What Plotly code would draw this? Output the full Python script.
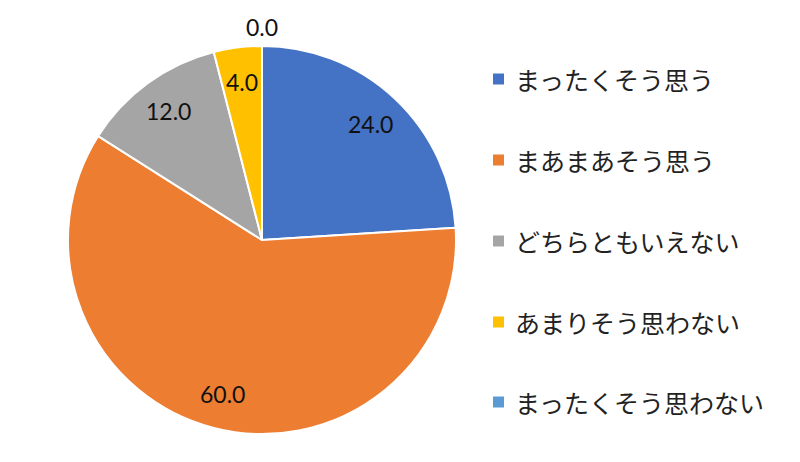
import math
import plotly.graph_objects as go

labels = ['まったくそう思う', 'まあまあそう思う', 'どちらともいえない', 'あまりそう思わない', 'まったくそう思わない']
values = [24.0, 60.0, 12.0, 4.0, 0.0]
colors = ['#4472C4', '#ED7D31', '#A5A5A5', '#FFC000', '#5B9BD5']

W, H = 800, 462
CX, CY, R = 262, 240, 194   # pie centre / radius in px

fig = go.Figure(go.Pie(
    labels=labels, values=values, sort=False, direction='clockwise', rotation=0,
    marker=dict(colors=colors, line=dict(color='white', width=2)),
    textinfo='none', hoverinfo='label+value', showlegend=False,
    domain=dict(x=[(CX - R) / W, (CX + R) / W], y=[1 - (CY + R) / H, 1 - (CY - R) / H]),
))

# value labels placed on each slice's bisector
annotations = []
total = sum(values)
cum = 0
for v in values:
    mid = (cum + v / 2) / total * 2 * math.pi
    cum += v
    r = 1.1 * R if v == 0 else 0.82 * R
    annotations.append(dict(
        x=(CX + r * math.sin(mid)) / W, y=1 - (CY - r * math.cos(mid)) / H,
        xref='paper', yref='paper', xanchor='center', yanchor='middle',
        text=f'{v:.1f}', showarrow=False,
        font=dict(family='Lato', size=23, color='#111111'),
    ))

# legend drawn on the right
shapes = []
row_y = [79, 160, 241, 322, 402]
for lab, col, y in zip(labels, colors, row_y):
    shapes.append(dict(type='rect', xref='paper', yref='paper',
                       x0=493 / W, x1=504 / W, y0=1 - (y + 5.5) / H, y1=1 - (y - 5.5) / H,
                       fillcolor=col, line=dict(width=0)))
    annotations.append(dict(x=513 / W, y=1 - y / H, xref='paper', yref='paper',
                            xanchor='left', yanchor='middle', text=lab, showarrow=False,
                            font=dict(family='Noto Sans CJK JP', size=25, color='#222222')))

fig.update_layout(
    width=W, height=H,
    margin=dict(l=0, r=0, t=0, b=0),
    paper_bgcolor='white', plot_bgcolor='white',
    annotations=annotations, shapes=shapes,
)
fig.write_html('out.html', config={'displayModeBar': False},
               post_script="document.body.style.margin='0';")
